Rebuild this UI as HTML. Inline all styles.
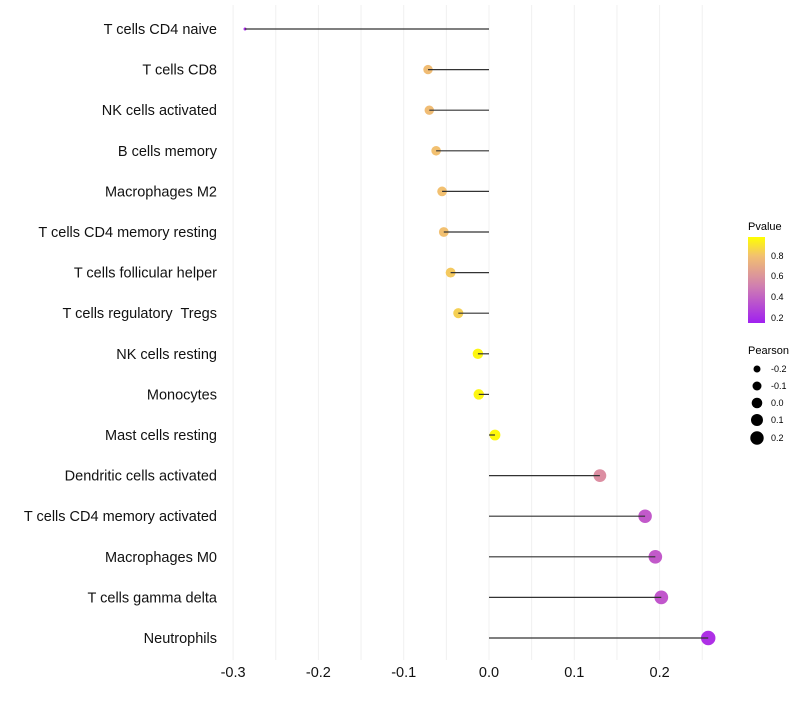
<!DOCTYPE html>
<html><head><meta charset="utf-8"><style>
body{margin:0;background:#fff;font-family:"Liberation Sans",sans-serif}
#ylab text{white-space:pre}
</style></head><body>
<svg id="c" width="800" height="700" xmlns="http://www.w3.org/2000/svg">
<defs><linearGradient id="pg" x1="0" y1="1" x2="0" y2="0">
<stop offset="0" stop-color="#a020f0"/><stop offset="0.43" stop-color="#d07fb0"/><stop offset="0.78" stop-color="#f2c070"/><stop offset="1" stop-color="#ffff00"/>
</linearGradient></defs>
<g id="grid"></g><g id="pts"></g><g id="marks"></g><g id="ylab"></g><g id="xlab"></g>
<g>
<text x="748" y="230" font-size="11">Pvalue</text>
<rect x="748" y="237" width="17" height="86" fill="url(#pg)"/>
<text x="771" y="259" font-size="9">0.8</text><text x="771" y="279" font-size="9">0.6</text>
<text x="771" y="300" font-size="9">0.4</text><text x="771" y="321" font-size="9">0.2</text>
</g>
<g>
<text x="748" y="354" font-size="11">Pearson</text>
<circle cx="757" cy="369" r="3.5"/><text x="771" y="372" font-size="9">-0.2</text>
<circle cx="757" cy="386" r="4.5"/><text x="771" y="389" font-size="9">-0.1</text>
<circle cx="757" cy="403" r="5.3"/><text x="771" y="406" font-size="9">0.0</text>
<circle cx="757" cy="420" r="6"/><text x="771" y="423" font-size="9">0.1</text>
<circle cx="757" cy="438" r="6.7"/><text x="771" y="441" font-size="9">0.2</text>
</g>
</svg>
<script>
const categories=["T cells CD4 naive","T cells CD8","NK cells activated","B cells memory","Macrophages M2","T cells CD4 memory resting","T cells follicular helper","T cells regulatory  Tregs","NK cells resting","Monocytes","Mast cells resting","Dendritic cells activated","T cells CD4 memory activated","Macrophages M0","T cells gamma delta","Neutrophils"];
const pearson=[-0.286,-0.0715,-0.070,-0.062,-0.055,-0.053,-0.045,-0.036,-0.013,-0.012,0.007,0.130,0.183,0.195,0.202,0.257];
const pvalue=[0.15,0.78,0.78,0.8,0.8,0.8,0.83,0.85,0.97,0.97,0.98,0.56,0.34,0.34,0.33,0.18];
const xTicks=[-0.3,-0.2,-0.1,0.0,0.1,0.2];
const xTickLabels=["-0.3","-0.2","-0.1","0.0","0.1","0.2"];
const NS="http://www.w3.org/2000/svg";
const x=v=>489+v*853;
const y=i=>29+i*40.6;
function mk(t,a,p){const e=document.createElementNS(NS,t);for(const k in a)e.setAttribute(k,a[k]);document.getElementById(p).appendChild(e);return e;}
function lerp(a,b,t){return a.map((v,i)=>Math.round(v+(b[i]-v)*t));}
function col(p){const s=[[0.15,[170,40,235]],[0.5,[215,130,175]],[0.8,[242,192,112]],[1.0,[255,255,0]]];
 if(p<=s[0][0])return 'rgb('+s[0][1]+')';for(let i=1;i<s.length;i++){if(p<=s[i][0]){const t=(p-s[i-1][0])/(s[i][0]-s[i-1][0]);return 'rgb('+lerp(s[i-1][1],s[i][1],t)+')';}}return 'rgb(255,255,0)';}
const pmin=Math.min(...pearson),pmax=Math.max(...pearson);
const r=v=>Math.sqrt(2.25+(v-pmin)/(pmax-pmin)*50);
for(let g=-0.3;g<=0.2501;g+=0.05){const l=mk('line',{x1:x(g),x2:x(g),y1:5,y2:660,stroke:'#f0f0f0','stroke-width':1},'grid');

}
categories.forEach((c,i)=>{
 const ci=mk('circle',{cx:x(pearson[i]),cy:y(i),r:r(pearson[i]),fill:col(pvalue[i])},'pts');
 
 
 const ln=mk('line',{x1:x(0),x2:x(pearson[i]),y1:y(i),y2:y(i),stroke:'#333','stroke-width':1.2},'marks');
 
 
 const t=mk('text',{x:217,y:y(i)+5,'text-anchor':'end','font-size':14.5,fill:'#111'},'ylab');t.textContent=c;
 
 
});
xTicks.forEach((v,i)=>{const t=mk('text',{x:x(v),y:677,'text-anchor':'middle','font-size':14.5,fill:'#111'},'xlab');t.textContent=xTickLabels[i];
 
 });
</script>
</body></html>
